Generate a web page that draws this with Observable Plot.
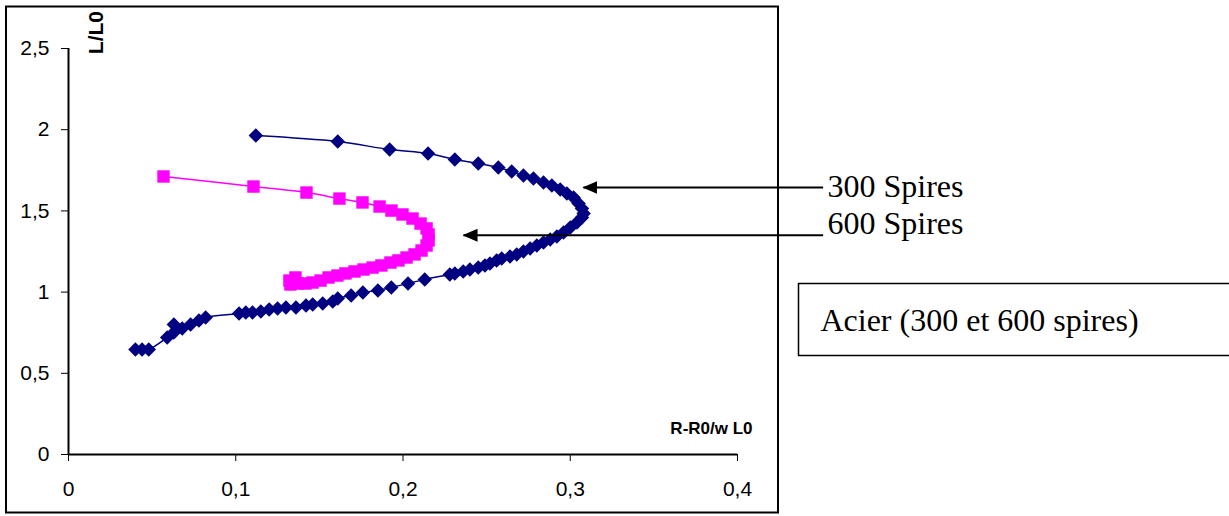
<!DOCTYPE html>
<html>
<head>
<meta charset="utf-8">
<script src="https://cdn.jsdelivr.net/npm/d3@7"></script>
<script src="https://cdn.jsdelivr.net/npm/@observablehq/plot@0.6"></script>
<style>
  html, body { margin: 0; padding: 0; background: #fff; }
  #chart { width: 1229px; height: 516px; }
  #chart svg g[aria-label*="axis"], #chart svg g[aria-label*="axis"] text { font-size: 21px !important; }
</style>
</head>
<body>
<div id="chart"></div>
<script>
// ---- Data: 300 spires (navy diamonds) ----
const spires300X = [0.112,0.161,0.192,0.215,0.231,0.245,0.257,0.265,0.272,0.278,0.284,0.289,0.294,0.298,0.302,0.305,0.307,0.308,0.307,0.304,0.300,0.296,0.292,0.288,0.284,0.280,0.276,0.272,0.268,0.264,0.259,0.256,0.252,0.249,0.245,0.240,0.236,0.231,0.228,0.213,0.203,0.193,0.185,0.176,0.169,0.161,0.158,0.152,0.146,0.142,0.136,0.130,0.125,0.120,0.115,0.110,0.106,0.102,0.082,0.078,0.073,0.068,0.063,0.063,0.059,0.048,0.044,0.040];
const spires300Y = [1.964,1.927,1.878,1.853,1.817,1.792,1.767,1.743,1.718,1.700,1.675,1.656,1.632,1.607,1.583,1.546,1.515,1.484,1.459,1.429,1.398,1.367,1.342,1.324,1.305,1.287,1.268,1.250,1.232,1.219,1.207,1.195,1.176,1.164,1.151,1.139,1.127,1.115,1.108,1.078,1.053,1.028,1.010,0.998,0.979,0.961,0.942,0.930,0.924,0.917,0.905,0.905,0.899,0.893,0.881,0.874,0.874,0.868,0.844,0.825,0.800,0.776,0.800,0.751,0.720,0.647,0.647,0.647];

// ---- Data: 600 spires (magenta squares) ----
const spires600X = [0.0568,0.1106,0.1423,0.1620,0.1758,0.1860,0.1931,0.1997,0.2057,0.2105,0.2141,0.2153,0.2153,0.2141,0.2111,0.2069,0.2021,0.1973,0.1925,0.1871,0.1818,0.1764,0.1710,0.1656,0.1608,0.1555,0.1507,0.1459,0.1417,0.1369,0.1357,0.1321,0.1327];
const spires600Y = [1.712,1.650,1.613,1.576,1.552,1.527,1.502,1.478,1.453,1.422,1.392,1.355,1.318,1.287,1.256,1.232,1.213,1.195,1.182,1.164,1.151,1.139,1.127,1.115,1.102,1.090,1.071,1.059,1.053,1.053,1.090,1.071,1.047];

// ---- Axis ticks and labels ----
const xTicks = [0, 0.1, 0.2, 0.3, 0.4];
const yTicks = [0, 0.5, 1, 1.5, 2, 2.5];
const xTitle = ["R-R0/w L0"];
const yTitle = ["L/L0"];

// ---- Annotations (data units) ----
const arrowLabels = ["300 Spires", "600 Spires"];
const arrowY = [1.644, 1.350];
const arrowTipX = [0.3079, 0.2362];
const arrowTailX = [0.4512, 0.4512];
const labelY = [1.650, 1.423];
const boxLabel = ["Acier (300 et 600 spires)"];

const comma = d => String(d).replace(".", ",");

const s300 = spires300X.map((x, i) => ({x, y: spires300Y[i]}));
const s600 = spires600X.map((x, i) => ({x, y: spires600Y[i]}));
const arrows = arrowLabels.map((t, i) => ({t, x1: arrowTailX[i], x2: arrowTipX[i], y: arrowY[i], ly: labelY[i]}));

const chart = Plot.plot({
  width: 1229,
  height: 516,
  marginLeft: 68,
  marginRight: 492,
  marginTop: 48,
  marginBottom: 62,
  style: {fontFamily: "'Liberation Sans', Arial, sans-serif", fontSize: "21px", color: "#000", background: "#fff", overflow: "visible"},
  x: {domain: [0, 0.4], ticks: xTicks, tickFormat: comma, tickSize: 7, tickPadding: 20, label: null},
  y: {domain: [0, 2.5], ticks: yTicks, tickFormat: comma, tickSize: 7, tickPadding: 12, label: null},
  marks: [
    Plot.ruleX([0], {stroke: "#000", strokeWidth: 2}),
    Plot.ruleY([0], {stroke: "#000", strokeWidth: 2}),
    Plot.line(s300, {x: "x", y: "y", stroke: "#000080", strokeWidth: 1.5, curve: "catmull-rom"}),
    Plot.dot(s300, {x: "x", y: "y", symbol: "diamond2", r: 6.5, fill: "#000080", stroke: "none"}),
    Plot.line(s600, {x: "x", y: "y", stroke: "#FF00FF", strokeWidth: 1.5, curve: "catmull-rom"}),
    Plot.dot(s600, {x: "x", y: "y", symbol: "square", r: 7, fill: "#FF00FF", stroke: "none"}),
    Plot.text(yTitle, {x: 0.0167, y: 2.598, text: d => d, rotate: -90, fontWeight: "bold", fontSize: 21, fill: "#000", textAnchor: "middle"}),
    Plot.text(xTitle, {x: 0.409, y: 0.16, text: d => d, fontWeight: "bold", fontSize: 17, fill: "#000", textAnchor: "end"}),
    Plot.link(arrows, {x1: "x1", y1: "y", x2: "x2", y2: "y", stroke: "#000", strokeWidth: 2}),
    Plot.text(arrows, {x: 0.4538, y: "ly", text: "t", textAnchor: "start", fontFamily: "'Liberation Serif', 'Times New Roman', serif", fontSize: 32, fill: "#000"}),
    Plot.text(boxLabel, {x: 0.4496, y: 0.825, text: d => d, textAnchor: "start", fontFamily: "'Liberation Serif', 'Times New Roman', serif", fontSize: 32, fill: "#000"})
  ]
});

document.getElementById("chart").appendChild(chart);

// Decorations: arrowhead marker, outer chart border, label box
const svg = d3.select(chart);
const defs = svg.insert("defs", ":first-child");
defs.append("marker")
  .attr("id", "ahead")
  .attr("markerUnits", "userSpaceOnUse")
  .attr("viewBox", "0 0 15 13")
  .attr("markerWidth", 15)
  .attr("markerHeight", 13)
  .attr("refX", 14)
  .attr("refY", 6.5)
  .attr("orient", "auto")
  .append("path")
  .attr("d", "M0,0 L15,6.5 L0,13 Z")
  .attr("fill", "#000");
svg.selectAll('g[aria-label="link"] path').attr("marker-end", "url(#ahead)");

svg.append("rect")
  .attr("x", 6).attr("y", 6.5).attr("width", 772).attr("height", 506)
  .attr("fill", "none").attr("stroke", "#000").attr("stroke-width", 2);
svg.append("rect")
  .attr("x", 798.5).attr("y", 283.5).attr("width", 460).attr("height", 72)
  .attr("fill", "none").attr("stroke", "#000").attr("stroke-width", 1.5);
</script>
</body>
</html>
